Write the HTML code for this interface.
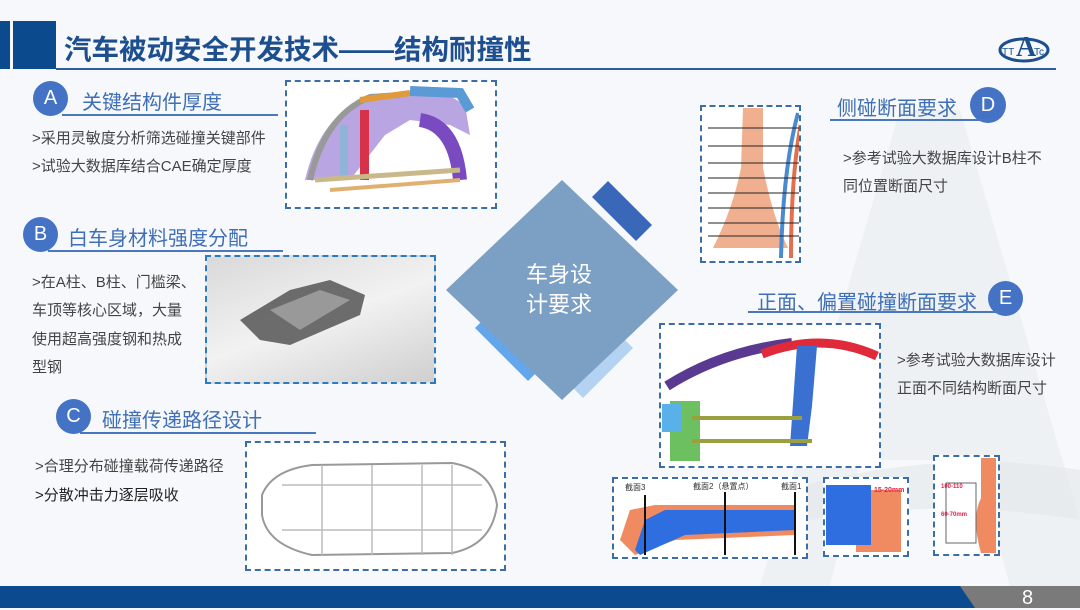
<!DOCTYPE html>
<html><head><meta charset="utf-8"><style>
*{margin:0;padding:0;box-sizing:border-box}
body{width:1080px;height:608px;overflow:hidden;background:#f6f8fb;position:relative;font-family:"Liberation Sans","Noto Sans CJK SC",sans-serif}
.a{position:absolute}
.t{position:absolute;white-space:nowrap}
.circ{position:absolute;border-radius:50%;background:#4472c4;color:#fff;font-size:20px;text-align:center}
.ttl{position:absolute;white-space:nowrap;color:#3f6fb6;font-size:20px}
.ul{position:absolute;height:2px;background:#4a78bd}
.bt{position:absolute;white-space:nowrap;color:#444;font-size:15px}
.box{position:absolute;border:2px dashed #3b6ea8}
</style></head><body>
<!-- watermark -->
<svg class="a" style="left:0;top:0" width="1080" height="608">
<polygon points="900,110 960,110 1080,520 1080,586 1010,586 975,460 860,460 830,586 760,586" fill="#e9ecef" opacity="0.6"/>
<path d="M700 520 Q900 440 1080 470 L1080 520 Q900 490 720 540Z" fill="#e4e7ea" opacity="0.6"/>
</svg>
<!-- header -->
<div class="a" style="left:0;top:21px;width:10px;height:48px;background:#0c4a8e"></div>
<div class="a" style="left:13px;top:21px;width:43px;height:48px;background:#0c4a8e"></div>
<div class="t" style="left:64px;top:27px;font-size:27.5px;font-weight:bold;color:#1d4f8f">汽车被动安全开发技术——结构耐撞性</div>
<div class="a" style="left:56px;top:68px;width:1000px;height:2px;background:#2e5d9a"></div>
<svg class="a" style="left:998px;top:20px" width="56" height="46"><ellipse cx="26" cy="30" rx="24" ry="11" fill="none" stroke="#1d4f8f" stroke-width="3"/><text x="18" y="36" font-size="28" font-weight="bold" fill="#1d4f8f" font-family="Liberation Serif">A</text><text x="4" y="35" font-size="10" fill="#1d4f8f">TT</text><text x="36" y="35" font-size="10" fill="#1d4f8f">Tc</text></svg>

<!-- A -->
<div class="circ" style="left:33px;top:81px;width:35px;height:35px;line-height:35px">A</div>
<div class="ttl" style="left:82px;top:86px">关键结构件厚度</div>
<div class="ul" style="left:62px;top:114px;width:216px"></div>
<div class="bt" style="left:32px;top:127px">&gt;采用灵敏度分析筛选碰撞关键部件</div>
<div class="bt" style="left:32px;top:155px">&gt;试验大数据库结合CAE确定厚度</div>
<div class="box" style="left:285px;top:80px;width:212px;height:129px;background:#fff"></div>
<svg class="a" style="left:290px;top:85px" width="205" height="120">
<path d="M15 95 Q30 30 80 10 L150 5 L175 20 L180 50 L160 40 L120 35 L95 50 L60 95Z" fill="#9a7fd6" opacity="0.7"/>
<path d="M20 95 Q35 30 80 12 L110 10" stroke="#999" stroke-width="6" fill="none"/>
<path d="M70 15 L120 8" stroke="#e09a3a" stroke-width="6"/>
<path d="M120 6 L170 8 L180 25" stroke="#5b9bd5" stroke-width="10" fill="none"/>
<rect x="70" y="25" width="9" height="70" fill="#d8324a"/>
<rect x="50" y="40" width="8" height="55" fill="#8fb4d8"/>
<path d="M130 35 Q165 40 170 95" stroke="#7a4ac0" stroke-width="14" fill="none"/>
<path d="M25 95 L170 85" stroke="#c9b98a" stroke-width="5"/>
<path d="M40 105 L170 95" stroke="#e0b070" stroke-width="4"/>
</svg>

<!-- B -->
<div class="circ" style="left:23px;top:217px;width:35px;height:35px;line-height:35px">B</div>
<div class="ttl" style="left:68px;top:222px">白车身材料强度分配</div>
<div class="ul" style="left:48px;top:250px;width:235px"></div>
<div class="bt" style="left:32px;top:271px">&gt;在A柱、B柱、门槛梁、</div>
<div class="bt" style="left:32px;top:299px">车顶等核心区域，大量</div>
<div class="bt" style="left:32px;top:328px">使用超高强度钢和热成</div>
<div class="bt" style="left:32px;top:356px">型钢</div>
<div class="box" style="left:205px;top:255px;width:231px;height:129px;background:linear-gradient(160deg,#d9d9d9,#f2f2f2 50%,#cfcfcf);border-color:#2d7bbf"></div>
<svg class="a" style="left:230px;top:270px" width="150" height="100"><path d="M10 50 L60 20 L100 10 L135 25 L130 45 L60 75 L30 70Z" fill="#555" opacity="0.85"/><path d="M40 40 L90 20 L120 30 L70 60Z" fill="#999"/></svg>

<!-- C -->
<div class="circ" style="left:56px;top:399px;width:35px;height:35px;line-height:35px">C</div>
<div class="ttl" style="left:102px;top:404px">碰撞传递路径设计</div>
<div class="ul" style="left:80px;top:432px;width:236px"></div>
<div class="bt" style="left:35px;top:455px">&gt;合理分布碰撞载荷传递路径</div>
<div class="bt" style="left:35px;top:484px;color:#222">&gt;分散冲击力逐层吸收</div>
<div class="box" style="left:245px;top:441px;width:261px;height:130px;background:#fff"></div>
<svg class="a" style="left:252px;top:455px" width="250" height="112"><path d="M10 40 Q20 15 60 10 L200 8 Q240 15 245 50 Q240 90 200 98 L60 100 Q15 90 10 60Z" fill="none" stroke="#999" stroke-width="2"/><g stroke="#bbb" stroke-width="1.5"><line x1="30" y1="30" x2="230" y2="30"/><line x1="30" y1="75" x2="230" y2="75"/><line x1="70" y1="10" x2="70" y2="100"/><line x1="120" y1="10" x2="120" y2="100"/><line x1="170" y1="10" x2="170" y2="100"/><line x1="200" y1="10" x2="200" y2="100"/></g></svg>

<!-- diamond -->
<svg class="a" style="left:440px;top:175px" width="245" height="235">
<polygon points="152,22 168,6 212,50 196,66" fill="#3a68b8"/>
<polygon points="48,140 35,153 88,206 101,193" fill="#64a6ec"/>
<polygon points="180,160 193,173 143,223 130,210" fill="#b4d3f2"/>
<polygon points="122,5 238,115 122,225 6,115" fill="#7c9fc4"/>
</svg>
<div class="t" style="left:526px;top:260px;font-size:22px;color:#fff;line-height:30px;text-align:center">车身设<br>计要求</div>

<!-- D -->
<div class="ttl" style="left:837px;top:92px">侧碰断面要求</div>
<div class="circ" style="left:970px;top:87px;width:36px;height:36px;line-height:36px">D</div>
<div class="ul" style="left:830px;top:119px;width:160px"></div>
<div class="box" style="left:700px;top:105px;width:101px;height:158px;background:#fff"></div>
<svg class="a" style="left:703px;top:108px" width="96" height="152"><path d="M40 0 L60 0 L60 60 Q70 110 85 140 L10 140 Q30 100 38 60Z" fill="#f0b090"/><path d="M95 5 Q80 60 78 150" stroke="#4a8ad0" stroke-width="4" fill="none"/><path d="M100 5 Q88 60 88 150" stroke="#e07050" stroke-width="4" fill="none"/><g stroke="#222" stroke-width="1"><line x1="5" y1="20" x2="96" y2="20"/><line x1="5" y1="38" x2="96" y2="38"/><line x1="5" y1="55" x2="96" y2="55"/><line x1="5" y1="70" x2="96" y2="70"/><line x1="5" y1="85" x2="96" y2="85"/><line x1="5" y1="100" x2="96" y2="100"/><line x1="5" y1="115" x2="96" y2="115"/><line x1="5" y1="128" x2="96" y2="128"/></g></svg>
<div class="bt" style="left:843px;top:147px">&gt;参考试验大数据库设计B柱不</div>
<div class="bt" style="left:843px;top:175px">同位置断面尺寸</div>

<!-- E -->
<div class="ttl" style="left:757px;top:286px">正面、偏置碰撞断面要求</div>
<div class="circ" style="left:988px;top:281px;width:35px;height:35px;line-height:35px">E</div>
<div class="ul" style="left:748px;top:311px;width:255px"></div>
<div class="box" style="left:659px;top:323px;width:222px;height:145px;background:#fff"></div>
<svg class="a" style="left:662px;top:326px" width="218" height="140">
<path d="M5 60 Q60 25 130 17" stroke="#5a3a90" stroke-width="10" fill="none"/>
<path d="M100 28 Q160 5 215 30" stroke="#e02a3a" stroke-width="9" fill="none"/>
<polygon points="135,20 155,20 150,80 145,120 128,120" fill="#3a70d0"/>
<rect x="8" y="75" width="30" height="60" fill="#6cc060"/>
<rect x="0" y="78" width="20" height="28" fill="#5ab0e8"/>
<line x1="30" y1="92" x2="140" y2="92" stroke="#9aa040" stroke-width="4"/>
<line x1="30" y1="115" x2="150" y2="115" stroke="#9aa040" stroke-width="4"/>
</svg>
<div class="bt" style="left:897px;top:349px">&gt;参考试验大数据库设计</div>
<div class="bt" style="left:897px;top:377px">正面不同结构断面尺寸</div>

<div class="box" style="left:612px;top:477px;width:196px;height:82px;background:#fff"></div>
<svg class="a" style="left:615px;top:480px" width="190" height="76"><path d="M5 60 L15 30 L40 25 L180 25 L180 55 L60 60 L20 75Z" fill="#f08a60"/><path d="M20 70 L30 40 L50 30 L180 30 L180 50 L70 55 L25 75Z" fill="#2f6ee0"/><g stroke="#111" stroke-width="2"><line x1="30" y1="15" x2="30" y2="75"/><line x1="110" y1="12" x2="110" y2="75"/><line x1="180" y1="12" x2="180" y2="75"/></g><text x="10" y="10" font-size="8" fill="#333">截面3</text><text x="78" y="9" font-size="8" fill="#333">截面2（悬置点）</text><text x="166" y="9" font-size="8" fill="#333">截面1</text></svg>
<div class="box" style="left:823px;top:477px;width:86px;height:80px;background:#fff"></div>
<svg class="a" style="left:826px;top:480px" width="80" height="74"><rect x="30" y="10" width="45" height="62" fill="#f08a60"/><rect x="0" y="5" width="45" height="60" fill="#2f6ee0"/><text x="48" y="12" font-size="7" fill="#e0204a" font-weight="bold">15-20mm</text></svg>
<div class="box" style="left:933px;top:455px;width:67px;height:101px;background:#fff"></div>
<svg class="a" style="left:936px;top:458px" width="62" height="96"><path d="M45 0 L60 0 L60 95 L45 95 Q35 60 45 40Z" fill="#f08a60"/><path d="M10 25 L40 25 L40 85 L10 85Z" fill="none" stroke="#666"/><text x="5" y="30" font-size="6" fill="#e0204a" font-weight="bold">100-110</text><text x="5" y="58" font-size="6" fill="#e0204a" font-weight="bold">60-70mm</text></svg>

<!-- footer -->
<div class="a" style="left:0;top:586px;width:1080px;height:22px;background:#7a7a7a"></div>
<div class="a" style="left:0;top:586px;width:975px;height:22px;background:#0b4a8e;clip-path:polygon(0 0,960px 0,975px 22px,0 22px)"></div>
<div class="t" style="left:1022px;top:586px;font-size:20px;color:#fff;line-height:24px">8</div>
</body></html>
